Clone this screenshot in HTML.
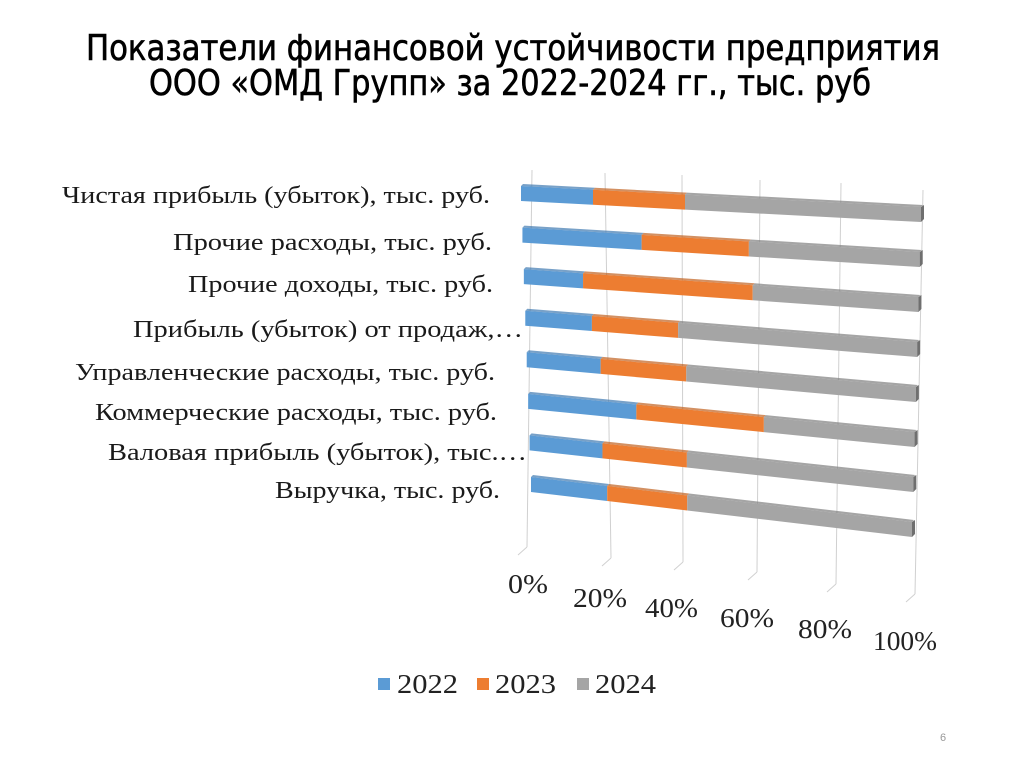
<!DOCTYPE html>
<html><head><meta charset="utf-8">
<style>
html,body{margin:0;padding:0;background:#fff;}
svg{display:block;}
</style></head>
<body>
<svg id="chart" width="1024" height="767" viewBox="0 0 1024 767" xmlns="http://www.w3.org/2000/svg">
  <g font-family="'DejaVu Sans Condensed','Liberation Sans Narrow','Liberation Sans',sans-serif" font-size="36" fill="#000" stroke="#000" stroke-width="0.6" text-anchor="middle">
    <text x="513" y="60" textLength="854" lengthAdjust="spacingAndGlyphs">Показатели финансовой устойчивости предприятия</text>
    <text x="510" y="95" textLength="722" lengthAdjust="spacingAndGlyphs">ООО «ОМД Групп» за 2022-2024 гг., тыс. руб</text>
  </g>
  <g id="grid"></g>
  <g id="bars"></g>
  <g id="cats" font-family="'Liberation Serif',serif" font-size="24" fill="#1a1a1a" text-anchor="end"></g>
  <g id="ticks" font-family="'Liberation Serif',serif" font-size="27" fill="#222"></g>
  <g font-family="'Liberation Serif',serif" font-size="27" fill="#222">
    <g><rect x="378" y="678" width="12" height="12" fill="#5b9bd5"/><text x="397" y="693" textLength="61" lengthAdjust="spacingAndGlyphs">2022</text></g>
    <g><rect x="477" y="678" width="12" height="12" fill="#ed7d31"/><text x="495" y="693" textLength="61" lengthAdjust="spacingAndGlyphs">2023</text></g>
    <g><rect x="577" y="678" width="12" height="12" fill="#a5a5a5"/><text x="595" y="693" textLength="61" lengthAdjust="spacingAndGlyphs">2024</text></g>
  </g>
  <text x="940" y="741" font-family="'Liberation Sans',sans-serif" font-size="11" fill="#999">6</text>
</svg>
<script>
const categories = ["Чистая прибыль (убыток), тыс. руб.","Прочие расходы, тыс. руб.","Прочие доходы, тыс. руб.","Прибыль (убыток) от продаж,…","Управленческие расходы, тыс. руб.","Коммерческие расходы, тыс. руб.","Валовая прибыль (убыток), тыс.…","Выручка, тыс. руб."];
const values2022 = [18, 30, 15, 17, 19, 28, 19, 20];
const values2023 = [23, 27, 43, 22, 22, 33, 22, 21];
const values2024 = [59, 43, 42, 61, 59, 39, 59, 59];
const tickLabels = ["0%","20%","40%","60%","80%","100%"];

const NS = "http://www.w3.org/2000/svg";
const colors = ["#5b9bd5","#ed7d31","#a5a5a5"];
const sides = ["#3f79b0","#c0611f","#7f7f7f"];
function mk(tag, attrs, parent){const e=document.createElementNS(NS,tag);for(const k in attrs)e.setAttribute(k,attrs[k]);parent.appendChild(e);return e;}

const n = categories.length;
function rowGeom(i){
  const t = i/(n-1);
  return {xl:521+10*t, yl:186+291*t, xr:921-9*t, yr:207+315*t, h:15};
}
function pt(g, f){
  return [g.xl+(g.xr-g.xl)*f, g.yl+(g.yr-g.yl)*f];
}

const grid = document.getElementById('grid');
const gTop = [[532,170],[605,173],[682,175],[760,180],[841,183],[923,190]];
const gBot = [[527,547],[611,558],[683,562],[757,572],[836,584],[915,594]];
const tickPos = [[508,593],[573,607],[645,617],[720,627],[798,638],[873,650]];
const tickW = [40,54,53,54,54,64];
for(let k=0;k<tickLabels.length;k++){
  const l = mk('line',{x1:gTop[k][0],y1:gTop[k][1],x2:gBot[k][0],y2:gBot[k][1],stroke:'#d0d0d0','stroke-width':1},grid);
  
  
  const tk = mk('line',{x1:gBot[k][0],y1:gBot[k][1],x2:gBot[k][0]-9,y2:gBot[k][1]+8,stroke:'#d0d0d0','stroke-width':1},grid);
  
  
  const tx = mk('text',{x:tickPos[k][0],y:tickPos[k][1],textLength:tickW[k],lengthAdjust:'spacingAndGlyphs'},document.getElementById('ticks'));
  tx.textContent = tickLabels[k];
  
  
}

const bars = document.getElementById('bars');
const series = [values2022, values2023, values2024];
const years = ["2022","2023","2024"];
for(let i=0;i<n;i++){
  const g = rowGeom(i);
  const total = values2022[i]+values2023[i]+values2024[i];
  let acc = 0;
  for(let s=0;s<3;s++){
    const f0 = acc/total, f1 = (acc+series[s][i])/total;
    acc += series[s][i];
    const a = pt(g,f0), b = pt(g,f1);
    const p = mk('polygon',{points:`${a[0]},${a[1]} ${b[0]},${b[1]} ${b[0]},${b[1]+g.h} ${a[0]},${a[1]+g.h}`,fill:colors[s]},bars);
    
    
    const top = mk('polygon',{points:`${a[0]+2},${a[1]-2} ${b[0]+2},${b[1]-2} ${b[0]},${b[1]} ${a[0]},${a[1]}`,fill:sides[s],opacity:0.7},bars);
    
    
  }
  const e = pt(g,1);
  const cap = mk('polygon',{points:`${e[0]},${e[1]} ${e[0]+3},${e[1]-2} ${e[0]+3},${e[1]+g.h-3} ${e[0]},${e[1]+g.h}`,fill:'#6f6f6f'},bars);
  
  
}

const labRight = [490,492,493,523,495,497,527,500];
const labLeft = [62,173,188,133,75,95,108,275];
const labBase = [203,250,292,337,380,420,460,498];
const cats = document.getElementById('cats');
for(let i=0;i<n;i++){
  const t = mk('text',{x:labRight[i],y:labBase[i],textLength:labRight[i]-labLeft[i],lengthAdjust:'spacingAndGlyphs'},cats);
  t.textContent = categories[i];
  
  
}
</script>
</body></html>
